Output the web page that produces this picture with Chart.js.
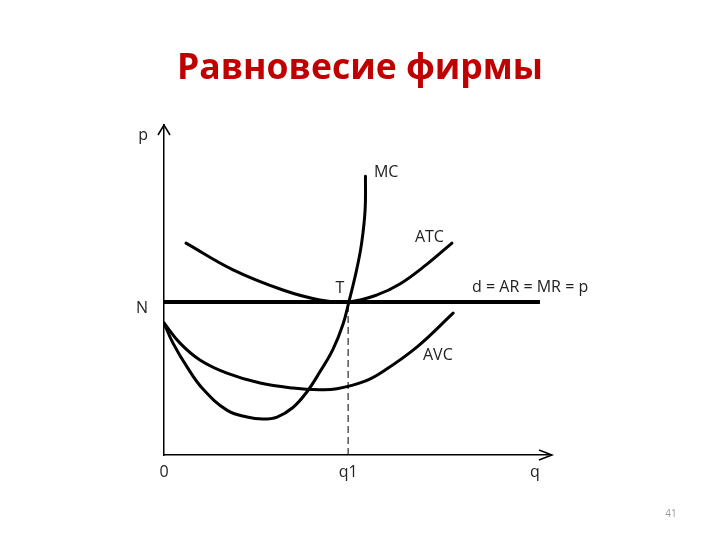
<!DOCTYPE html>
<html lang="ru">
<head>
<meta charset="UTF-8">
<title>Равновесие фирмы</title>
<script src="https://cdn.jsdelivr.net/npm/chart.js"></script>
<style>
    body { margin: 0; background: #fff; }
    #grafico { display: block; }
</style>
</head>
<body>
<canvas id="grafico" width="720" height="540"></canvas>

<script>
    // q = объём, p = цена (условные единицы, 0..100)
    var mcQ  = [0, 2.33, 5.96, 10.1, 16.3, 21.5, 25.6, 29.3, 33.4, 37.0, 40.4, 43.8, 46.4, 47.9, 49.9, 51.2, 52.1, 52.2];
    var mcP  = [40.0, 33.9, 26.7, 20.0, 13.6, 11.5, 10.9, 11.5, 14.4, 19.1, 25.2, 32.1, 39.7, 46.4, 56.1, 64.2, 74.2, 84.5];

    var atcQ = [5.7, 17.9, 30.8, 40.4, 47.9, 55.2, 61.1, 67.9, 74.6];
    var atcP = [64.2, 56.1, 50.0, 47.0, 46.4, 48.5, 51.8, 57.6, 64.2];

    var avcQ = [0, 4.15, 9.3, 16.3, 24.9, 33.4, 40.4, 44.8, 52.1, 56.7, 65.5, 74.9];
    var avcP = [40.0, 33.9, 28.8, 24.8, 21.8, 20.3, 19.8, 20.1, 22.4, 25.3, 32.7, 43.0];

    var priceQ = [0, 97.4];
    var priceP = [46.4, 46.4];

    var q1Q = [47.7, 47.7];
    var q1P = [0, 46.4];

    // подписи осей
    var xTickValues = [0, 47.7, 96.1];
    var xTickLabels = ['0', 'q1', 'q'];
    var yTickValues = [44.5, 96.7];
    var yTickLabels = ['N', 'p'];

    // подписи кривых: текст, q, p
    var curveNames = ['MC', 'ATC', 'T', 'd = AR = MR = p', 'AVC'];
    var curveNameQ = [54.4, 65.0, 45.6, 79.8, 67.1];
    var curveNameP = [85.5, 65.8, 50.6, 50.9, 30.3];

    function pontos(qs, ps) {
        return qs.map(function (q, i) { return { x: q, y: ps[i] }; });
    }

    Chart.defaults.font.family = '"Open Sans", sans-serif';
    Chart.defaults.color = '#222';

    const extras = {
        id: 'extras',
        afterDatasetsDraw(chart) {
            const ctx = chart.ctx;
            const a = chart.chartArea;
            const x = chart.scales.x, y = chart.scales.y;
            ctx.save();

            // стрелки осей
            ctx.strokeStyle = '#000';
            ctx.lineWidth = 1.5;
            ctx.beginPath();
            ctx.moveTo(a.left - 6, a.top + 10);
            ctx.lineTo(a.left, a.top);
            ctx.lineTo(a.left + 6, a.top + 10);
            ctx.moveTo(a.right - 11, a.bottom - 5);
            ctx.lineTo(a.right + 2, a.bottom);
            ctx.lineTo(a.right - 11, a.bottom + 5);
            ctx.stroke();

            // подписи кривых
            ctx.fillStyle = '#222';
            ctx.font = '16px "Open Sans"';
            ctx.textBaseline = 'middle';
            for (var i = 0; i < curveNames.length; i++) {
                ctx.textAlign = curveNames[i] == 'T' ? 'center' : 'left';
                ctx.fillText(curveNames[i], x.getPixelForValue(curveNameQ[i]), y.getPixelForValue(curveNameP[i]));
            }

            // номер слайда
            ctx.fillStyle = '#999';
            ctx.font = '10px "Open Sans"';
            ctx.textAlign = 'center';
            ctx.fillText('41', 671, 514);
            ctx.restore();
        }
    };

    var curva = { borderColor: '#000', borderWidth: 3, pointRadius: 0, fill: false,
                  tension: 0.4, borderCapStyle: 'round' };

    new Chart(document.getElementById('grafico'), {
        type: 'line',
        data: {
            datasets: [
                Object.assign({ label: 'MC', data: pontos(mcQ, mcP) }, curva),
                Object.assign({ label: 'ATC', data: pontos(atcQ, atcP) }, curva),
                Object.assign({ label: 'AVC', data: pontos(avcQ, avcP) }, curva),
                { label: 'd', data: pontos(priceQ, priceP), borderColor: '#000', borderWidth: 4, pointRadius: 0 },
                { label: 'q1', data: pontos(q1Q, q1P), borderColor: '#000', borderWidth: 1, borderDash: [7, 4], pointRadius: 0 }
            ]
        },
        options: {
            responsive: false,
            animation: false,
            layout: { padding: 0 },
            plugins: {
                legend: { display: false },
                tooltip: { enabled: false },
                title: {
                    display: true,
                    text: 'Равновесие фирмы',
                    color: '#c00000',
                    font: { size: 35.5, weight: 'bold', lineHeight: 1.2 },
                    padding: { top: 48, bottom: 34.4 }
                }
            },
            scales: {
                x: {
                    type: 'linear', min: 0, max: 100,
                    grid: { display: false, drawTicks: false },
                    border: { display: true, color: '#000', width: 1.5 },
                    ticks: { padding: 8, font: { size: 16 }, color: '#222',
                             callback: function (v, i) { return xTickLabels[i]; } },
                    afterBuildTicks: function (s) { s.ticks = xTickValues.map(function (v) { return { value: v }; }); },
                    afterFit: function (s) { s.height = 85; }
                },
                y: {
                    type: 'linear', min: 0, max: 100,
                    grid: { display: false, drawTicks: false },
                    border: { display: true, color: '#000', width: 1.5 },
                    ticks: { padding: 16, font: { size: 16 }, color: '#222',
                             callback: function (v, i) { return yTickLabels[i]; } },
                    afterBuildTicks: function (s) { s.ticks = yTickValues.map(function (v) { return { value: v }; }); },
                    afterFit: function (s) { s.width = 164; }
                },
                // пустое поле справа, чтобы заголовок стоял по центру слайда
                yRight: {
                    type: 'linear', position: 'right', min: 0, max: 100,
                    grid: { display: false, drawTicks: false },
                    border: { display: false },
                    ticks: { display: false },
                    afterFit: function (s) { s.width = 170; }
                }
            }
        },
        plugins: [extras]
    });
</script>
</body>
</html>
